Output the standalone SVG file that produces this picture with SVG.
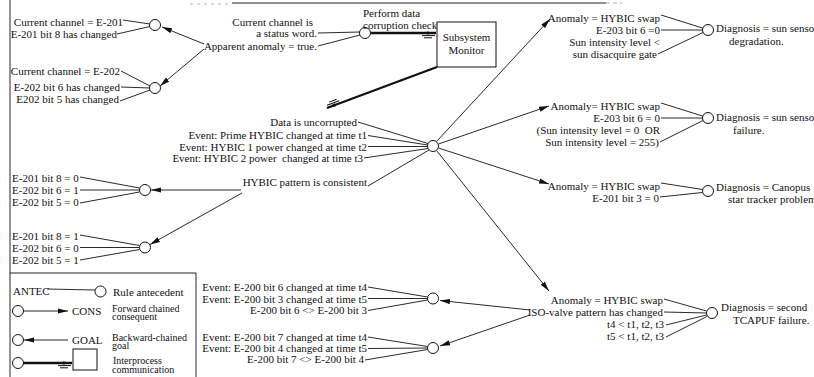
<svg xmlns="http://www.w3.org/2000/svg" width="814" height="377" viewBox="0 0 814 377">
<style>
.t{font-family:"Liberation Serif","Times New Roman",serif;font-size:11px;fill:#111}
.s{font-size:10px}
.e{text-anchor:end}
.c{fill:#fff;stroke:#111;stroke-width:1}
.l{stroke:#111;stroke-width:0.9;fill:none}
.a{marker-end:url(#arr)}
.k{stroke:#111;stroke-width:2.4;fill:none;marker-end:url(#ipc)}
.b{fill:#fff;stroke:#111;stroke-width:1}
</style>
<defs>
<marker id="arr" markerUnits="userSpaceOnUse" viewBox="0 0 10 6" refX="10" refY="3" markerWidth="10" markerHeight="6" orient="auto">
<path d="M0,0.4 L10,3 L0,5.6 z" fill="#111"/>
</marker>
<marker id="ipc" markerUnits="userSpaceOnUse" viewBox="-15 -3 17 10" refX="0" refY="0" markerWidth="17" markerHeight="10" orient="auto">
<path d="M1,0 L-9,-1.6 L-9,1.6 z" fill="#111"/>
<path d="M-14,2.6 H-1 M-12,4.8 H-4" stroke="#111" stroke-width="1" fill="none"/>
</marker>
</defs>

<g id="frame">
<line class="l" x1="10" y1="0" x2="10" y2="377"/>
<line x1="232" y1="3" x2="606" y2="3" stroke="#222" stroke-width="1.2"/>
<line x1="190" y1="4" x2="232" y2="4" stroke="#999" stroke-width="0.8" stroke-dasharray="3 4"/>
<line x1="606" y1="3" x2="622" y2="3" stroke="#999" stroke-width="0.8" stroke-dasharray="4 3"/>
</g>

<g id="connectors">
<line class="l" x1="123" y1="20" x2="150" y2="24"/>
<line class="l" x1="117" y1="34" x2="150" y2="26.5"/>
<line class="l a" x1="204" y1="44" x2="162" y2="27"/>
<line class="l a" x1="204" y1="49" x2="160" y2="86"/>
<line class="l" x1="121" y1="71" x2="150" y2="86"/>
<line class="l" x1="121" y1="87" x2="150" y2="88" stroke-width="1.4"/>
<line class="l" x1="120" y1="101" x2="150" y2="90"/>
<line class="l" x1="318" y1="33" x2="359.5" y2="32"/>
<line class="l" x1="318" y1="46" x2="360" y2="35"/>
<line class="k" x1="371" y1="33" x2="436" y2="33"/>
<line class="k" x1="437" y1="67" x2="327" y2="108"/>
<line class="l" x1="358" y1="122" x2="428" y2="143.5"/>
<line class="l" x1="368" y1="135.5" x2="427.5" y2="145"/>
<line class="l" x1="368" y1="146.5" x2="427.5" y2="146.5" stroke-width="1.4"/>
<line class="l" x1="364" y1="158" x2="428" y2="148.5"/>
<line class="l" x1="368" y1="186" x2="429" y2="150"/>
<line class="l a" x1="436.5" y1="141.5" x2="550" y2="19"/>
<line class="l a" x1="438.5" y1="144" x2="549" y2="106"/>
<line class="l a" x1="438.5" y1="148" x2="549" y2="184"/>
<line class="l a" x1="436.5" y1="150.5" x2="549" y2="291"/>
<line class="l a" x1="241" y1="190" x2="151" y2="190"/>
<line class="l a" x1="242" y1="193" x2="150" y2="244.5"/>
<line class="l" x1="80" y1="177" x2="139.5" y2="188"/>
<line class="l" x1="80" y1="190" x2="139.5" y2="190" stroke-width="1.2"/>
<line class="l" x1="80" y1="203" x2="139.5" y2="192"/>
<line class="l" x1="80" y1="235" x2="139.5" y2="245.5"/>
<line class="l" x1="80" y1="247.5" x2="139.5" y2="247.5"/>
<line class="l" x1="80" y1="260" x2="139.5" y2="249.5"/>
<line class="l" x1="661" y1="15" x2="702.5" y2="28"/>
<line class="l" x1="661" y1="30" x2="702.5" y2="30" stroke-width="1.4"/>
<line class="l" x1="658" y1="54" x2="703" y2="32.5"/>
<line class="l" x1="661" y1="103" x2="702.5" y2="116"/>
<line class="l" x1="661" y1="118" x2="702.5" y2="118" stroke-width="1.2"/>
<line class="l" x1="660" y1="142" x2="703" y2="120.5"/>
<line class="l" x1="661" y1="183" x2="702.5" y2="189.5"/>
<line class="l" x1="660" y1="197" x2="702.5" y2="192.5"/>
<line class="l" x1="664" y1="299" x2="706.5" y2="311"/>
<line class="l" x1="664" y1="312" x2="706.5" y2="313"/>
<line class="l" x1="666" y1="325" x2="706.5" y2="315"/>
<line class="l" x1="666" y1="337" x2="707" y2="316.5"/>
<line class="l a" x1="530" y1="310" x2="440" y2="300.5"/>
<line class="l a" x1="530" y1="315" x2="440" y2="346"/>
<line class="l" x1="368" y1="287" x2="427.5" y2="297"/>
<line class="l" x1="368" y1="298.5" x2="427.5" y2="298.5" stroke-width="1.4"/>
<line class="l" x1="368" y1="310.5" x2="427.5" y2="300"/>
<line class="l" x1="368" y1="337" x2="427.5" y2="346.5"/>
<line class="l" x1="368" y1="348.5" x2="427.5" y2="348"/>
<line class="l" x1="365" y1="360" x2="427.5" y2="349.5"/>
</g>

<g id="n-e201">
<text class="t e" x="123" y="26">Current channel = E-201</text>
<text class="t e" x="117" y="38">E-201 bit 8 has changed</text>
<circle class="c" cx="155" cy="25" r="5.5"/>
</g>
<g id="n-e202">
<text class="t e" x="120" y="75">Current channel = E-202</text>
<text class="t e" x="120" y="91">E-202 bit 6 has changed</text>
<text class="t e" x="119" y="103">E202 bit 5 has changed</text>
<circle class="c" cx="155" cy="88" r="5.5"/>
</g>
<g id="n-status">
<text class="t e" x="313" y="26">Current channel is</text>
<text class="t e" x="317" y="37">a status word.</text>
<text class="t e" x="317" y="50">Apparent anomaly = true.</text>
<circle class="c" cx="365" cy="33" r="5.5"/>
<text class="t" x="363" y="17">Perform data</text>
<text class="t" x="363" y="29">corruption check.</text>
</g>
<g id="n-monitor">
<rect class="b" x="437" y="22" width="59" height="45"/>
<text class="t" x="466.5" y="40.5" text-anchor="middle">Subsystem</text>
<text class="t" x="466.5" y="54" text-anchor="middle">Monitor</text>
</g>
<g id="n-hybic">
<text class="t e" x="357" y="126">Data is uncorrupted</text>
<text class="t e" x="367" y="139">Event: Prime HYBIC changed at time t1</text>
<text class="t e" x="367" y="150.5">Event: HYBIC 1 power changed at time t2</text>
<text class="t e" x="363" y="162" xml:space="preserve">Event: HYBIC 2 power  changed at time t3</text>
<text class="t e" x="367" y="186">HYBIC pattern is consistent</text>
<circle class="c" cx="433" cy="146" r="5.5"/>
</g>
<g id="n-pat1">
<text class="t" x="12" y="182">E-201 bit 8 = 0</text>
<text class="t" x="12" y="194">E-202 bit 6 = 1</text>
<text class="t" x="12" y="206">E-202 bit 5 = 0</text>
<circle class="c" cx="145" cy="190" r="5.5"/>
</g>
<g id="n-pat2">
<text class="t" x="12" y="239.5">E-201 bit 8 = 1</text>
<text class="t" x="12" y="251.5">E-202 bit 6 = 0</text>
<text class="t" x="12" y="263.5">E-202 bit 5 = 1</text>
<circle class="c" cx="145" cy="247.5" r="5.5"/>
</g>
<g id="n-diag1">
<text class="t e" x="660" y="22">Anomaly = HYBIC swap</text>
<text class="t e" x="660" y="34">E-203 bit 6 =0</text>
<text class="t e" x="660" y="46">Sun intensity level &lt;</text>
<text class="t e" x="657" y="58">sun disacquire gate</text>
<circle class="c" cx="708" cy="30" r="5.5"/>
<text class="t" x="716" y="32">Diagnosis = sun sensor</text>
<text class="t" x="729" y="45">degradation.</text>
</g>
<g id="n-diag2">
<text class="t e" x="660" y="110">Anomaly= HYBIC swap</text>
<text class="t e" x="660" y="122">E-203 bit 6 = 0</text>
<text class="t e" x="660" y="134" xml:space="preserve">(Sun intensity level = 0  OR</text>
<text class="t e" x="659" y="146">Sun intensity level = 255)</text>
<circle class="c" cx="708" cy="118" r="5.5"/>
<text class="t" x="716" y="121">Diagnosis = sun sensor</text>
<text class="t" x="733" y="134">failure.</text>
</g>
<g id="n-diag3">
<text class="t e" x="660" y="190">Anomaly = HYBIC swap</text>
<text class="t e" x="659" y="202">E-201 bit 3 = 0</text>
<circle class="c" cx="708" cy="191" r="5.5"/>
<text class="t" x="716" y="191">Diagnosis = Canopus</text>
<text class="t" x="728" y="203">star tracker problem</text>
</g>
<g id="n-diag4">
<text class="t e" x="663" y="304">Anomaly = HYBIC swap</text>
<text class="t e" x="663" y="316">ISO-valve pattern has changed</text>
<text class="t e" x="664" y="328">t4 &lt; t1, t2, t3</text>
<text class="t e" x="664" y="340">t5 &lt; t1, t2, t3</text>
<circle class="c" cx="712" cy="313" r="5.5"/>
<text class="t" x="721" y="310.5">Diagnosis = second</text>
<text class="t" x="733" y="323.5">TCAPUF failure.</text>
</g>
<g id="n-iso1">
<text class="t e" x="367" y="291">Event: E-200 bit 6 changed at time t4</text>
<text class="t e" x="367" y="302.5">Event: E-200 bit 3 changed at time t5</text>
<text class="t e" x="367" y="314">E-200 bit 6 &lt;&gt; E-200 bit 3</text>
<circle class="c" cx="433" cy="298.5" r="5.5"/>
</g>
<g id="n-iso2">
<text class="t e" x="367" y="341">Event: E-200 bit 7 changed at time t4</text>
<text class="t e" x="367" y="352">Event: E-200 bit 4 changed at time t5</text>
<text class="t e" x="364" y="363">E-200 bit 7 &lt;&gt; E-200 bit 4</text>
<circle class="c" cx="433" cy="348" r="5.5"/>
</g>

<g id="legend">
<polyline class="l" points="10,273 196,273 196,377"/>
<text class="t" x="13" y="295">ANTEC</text>
<line class="l" x1="47" y1="289" x2="95" y2="290"/>
<circle class="c" cx="100.5" cy="291.5" r="5.5"/>
<text class="t" x="113" y="296">Rule antecedent</text>
<circle class="c" cx="18" cy="311" r="5.5"/>
<line class="l a" x1="23.5" y1="311" x2="68" y2="311"/>
<text class="t" x="72" y="315">CONS</text>
<text class="t s" x="112" y="311.5">Forward chained</text>
<text class="t s" x="112" y="320">consequent</text>
<circle class="c" cx="18" cy="340" r="5.5"/>
<line class="l a" x1="68" y1="340" x2="24" y2="340"/>
<text class="t" x="72" y="344">GOAL</text>
<text class="t s" x="112" y="341">Backward-chained</text>
<text class="t s" x="112" y="349">goal</text>
<circle class="c" cx="18" cy="363" r="5.5"/>
<line class="k" x1="23.5" y1="363" x2="72" y2="363"/>
<rect class="b" x="73" y="349" width="24" height="21"/>
<text class="t s" x="113" y="364">Interprocess</text>
<text class="t s" x="112" y="373">communication</text>
</g>
</svg>
